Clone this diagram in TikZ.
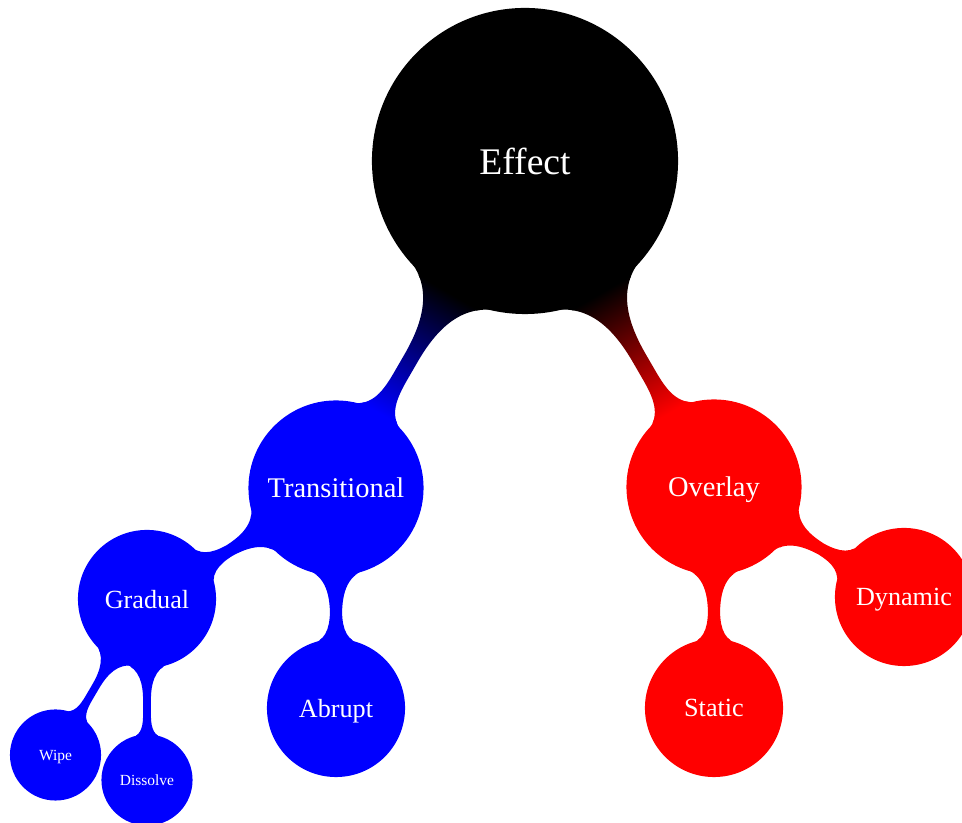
\documentclass[tikz,border=0pt]{standalone}
\usepackage{fontspec}
\setmainfont{Liberation Serif}
\usetikzlibrary{mindmap}
\tikzset{rootbox/.style = {concept, concept color=black, minimum size=6.08cm, text width=5cm, align=center, text depth=0pt, font=\fontsize{21.4}{24}\selectfont},
  levelone/.style = {concept, minimum size=3.46cm, text width=3cm, align=center, text depth=0pt, font=\fontsize{16.2}{19}\selectfont},
  leveltwo/.style = {concept, minimum size=2.72cm, text width=2.2cm, align=center, text depth=0pt, font=\fontsize{14.9}{17}\selectfont},
  levelthree/.style = {concept, minimum size=1.78cm, text width=1.3cm, align=center, text depth=0pt, font=\fontsize{8.8}{10}\selectfont}}

\begin{document}
\begin{tikzpicture}[mindmap, text=white]
      \useasboundingbox (0,0) rectangle (19.24,16.46);
      \node [rootbox] (effect) at (10.5,13.24) {Effect};
      \node [levelone, concept color=blue] (transitional) at (6.72,6.70) {Transitional};
      \node [levelone, concept color=red] (overlay) at (14.28,6.72) {Overlay};
      \node [leveltwo, concept color=blue] (gradual) at (2.94,4.48) {Gradual};
      \node [leveltwo, concept color=blue] (abrupt) at (6.72,2.30) {Abrupt};
      \node [leveltwo, concept color=red] (static) at (14.28,2.30) {Static};
      \node [leveltwo, concept color=red] (dynamic) at (18.08,4.52) {Dynamic};
      \node [levelthree, concept color=blue] (wipe) at (1.11,1.36) {Wipe};
      \node [levelthree, concept color=blue] (dissolve) at (2.94,0.86) {Dissolve};
      \path (effect) to [circle connection bar switch color=from (black) to (blue)] (transitional);
      \path (effect) to [circle connection bar switch color=from (black) to (red)] (overlay);
      \path (transitional) to [circle connection bar switch color=from (blue) to (blue)] (gradual);
      \path (transitional) to [circle connection bar switch color=from (blue) to (blue)] (abrupt);
      \path (overlay) to [circle connection bar switch color=from (red) to (red)] (static);
      \path (overlay) to [circle connection bar switch color=from (red) to (red)] (dynamic);
      \path (gradual) to [circle connection bar switch color=from (blue) to (blue)] (wipe);
      \path (gradual) to [circle connection bar switch color=from (blue) to (blue)] (dissolve);
    \end{tikzpicture}
\end{document}
